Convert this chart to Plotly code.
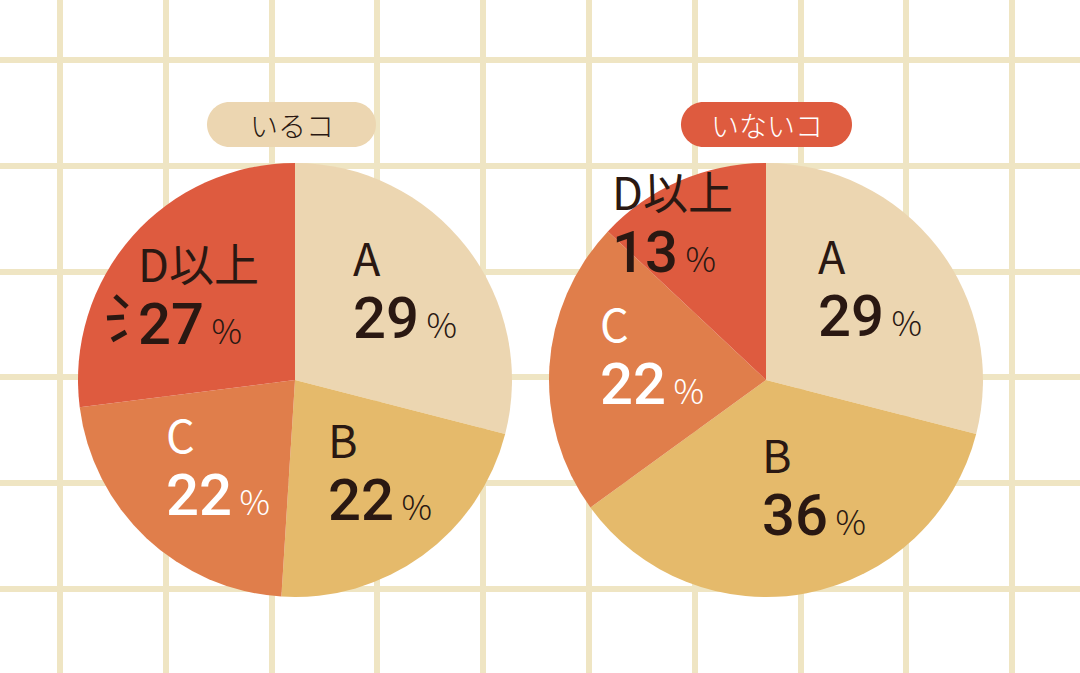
import plotly.graph_objects as go

# ---------------- data ----------------
categories = ["A", "B", "C", "D以上"]
values_iru = [29, 22, 22, 27]      # いるコ
values_inai = [29, 36, 22, 13]     # いないコ
group_titles = ["いるコ", "いないコ"]

# ---------------- style ----------------
W, H = 1080, 673
slice_colors = ["#ECD6B1", "#E5BA6B", "#E07E4B", "#DE5B3F"]
label_colors = ["#2A1812", "#2A1812", "#FFFFFF", "#2A1812"]
grid_color = "#EFE5C3"
dark = "#2A1812"
FONT = "Noto Sans CJK JP"
NUM_FONT = "Roboto"

pie_centers = [(295, 380), (766, 380)]
pie_r = 217

# label block anchor positions (left x, middle y)
label_pos = [
    {"A": (351, 288), "B": (326, 470), "C": (164, 465), "D以上": (136, 294)},
    {"A": (816, 286), "B": (760, 485), "C": (598, 354), "D以上": (610, 222)},
]
pill_boxes = [((207, 102, 376, 147), "#ECD6B1", dark),
              ((681, 102, 852, 147), "#DE5B3F", "#FFFFFF")]


def px_domain(cx, cy, r):
    return dict(x=[(cx - r) / W, (cx + r) / W],
                y=[1 - (cy + r) / H, 1 - (cy - r) / H])


fig = go.Figure()

# invisible trace to create the pixel-mapped cartesian frame (grid)
fig.add_trace(go.Scatter(x=[None], y=[None], mode="markers",
                         showlegend=False, hoverinfo="skip"))

for vals, (cx, cy) in zip([values_iru, values_inai], pie_centers):
    fig.add_trace(go.Pie(
        labels=categories, values=vals, sort=False, direction="clockwise",
        rotation=0, textinfo="none", hoverinfo="label+percent",
        marker=dict(colors=slice_colors, line=dict(width=0)),
        domain=px_domain(cx, cy, pie_r), showlegend=False,
    ))

annotations = []
shapes = []

# labels inside the pies
for vals, pos in zip([values_iru, values_inai], label_pos):
    for cat, v, col in zip(categories, vals, label_colors):
        x, y = pos[cat]
        txt = (f"<span style='font-size:45px;font-weight:400'>{cat}</span><br>"
               f"<span style='font-family:{NUM_FONT};font-size:58px;font-weight:500'>{v}</span>"
               f"<span style='font-size:34px;font-weight:300'> %</span>")
        annotations.append(dict(
            x=x, y=y, xref="x", yref="y", xanchor="left", yanchor="middle",
            align="left", text=txt, showarrow=False,
            font=dict(family=FONT, size=48, color=col)))


# pill-shaped titles
def pill_path(x0, y0, x1, y1):
    r = (y1 - y0) / 2
    k = 0.5523 * r
    return (f"M {x0 + r},{y0} L {x1 - r},{y0} "
            f"C {x1 - r + k},{y0} {x1},{y0 + r - k} {x1},{y0 + r} "
            f"C {x1},{y0 + r + k} {x1 - r + k},{y1} {x1 - r},{y1} "
            f"L {x0 + r},{y1} "
            f"C {x0 + r - k},{y1} {x0},{y0 + r + k} {x0},{y0 + r} "
            f"C {x0},{y0 + r - k} {x0 + r - k},{y0} {x0 + r},{y0} Z")


for title, ((x0, y0, x1, y1), bg, fg) in zip(group_titles, pill_boxes):
    shapes.append(dict(type="path", path=pill_path(x0, y0, x1, y1),
                       xref="x", yref="y", fillcolor=bg,
                       line=dict(width=0), layer="above"))
    annotations.append(dict(
        x=(x0 + x1) / 2, y=(y0 + y1) / 2, xref="x", yref="y",
        text=title, showarrow=False, xanchor="center", yanchor="middle",
        font=dict(family=FONT, size=28, color=fg, weight=300)))

# decorative emphasis strokes next to 27%
for (a, b, c, d) in [(115, 296, 127, 307), (107, 318, 124, 317), (112, 340, 126, 332)]:
    shapes.append(dict(type="line", x0=a, y0=b, x1=c, y1=d, xref="x", yref="y",
                       line=dict(color=dark, width=5), layer="above"))

fig.update_layout(
    width=W, height=H, margin=dict(l=0, r=0, t=0, b=0),
    paper_bgcolor="white", plot_bgcolor="white",
    xaxis=dict(range=[0, W], showgrid=True, gridcolor=grid_color, gridwidth=6,
               tick0=60, dtick=105.8, showticklabels=False, ticks="",
               zeroline=False, showline=False, fixedrange=True),
    yaxis=dict(range=[H, 0], showgrid=True, gridcolor=grid_color, gridwidth=6,
               tick0=60, dtick=105.8, showticklabels=False, ticks="",
               zeroline=False, showline=False, fixedrange=True),
    annotations=annotations, shapes=shapes,
)

fig.write_html("out.html")
